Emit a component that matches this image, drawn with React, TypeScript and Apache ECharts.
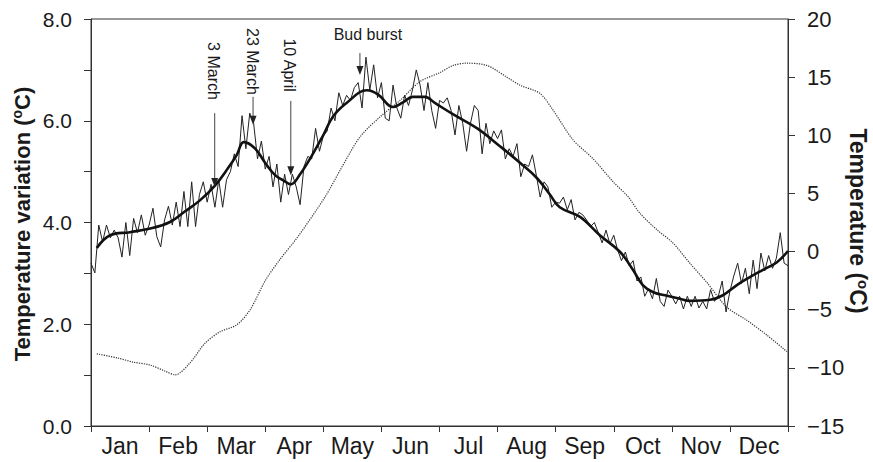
import React, { useEffect, useRef } from 'react';
import * as echarts from 'echarts';

// ---------- data ----------
const months = ['Jan', 'Feb', 'Mar', 'Apr', 'May', 'Jun', 'Jul', 'Aug', 'Sep', 'Oct', 'Nov', 'Dec'];

// daily-ish temperature variation, one reading every 2 days (x in months = index / 15)
const noisyVariation = [
  3.20, 3.01, 3.95, 3.62, 3.95, 3.70, 3.85, 3.70, 3.32, 4.00, 3.35, 4.08, 3.80, 4.15, 3.75,
  3.95, 4.28, 3.72, 3.52, 4.05, 4.32, 3.95, 4.40, 3.92, 4.61, 3.92, 4.80, 3.92, 4.55, 4.80,
  4.40, 4.75, 4.30, 4.84, 4.30, 4.84, 5.00, 5.35, 5.10, 6.10, 5.45, 6.15, 5.95, 5.25, 5.60,
  5.05, 5.30, 4.70, 5.15, 4.40, 4.95, 4.55, 4.95, 4.70, 4.35, 5.10, 5.30, 5.25, 5.85, 5.40,
  5.70, 5.80, 6.25, 6.00, 6.55, 6.30, 6.50, 6.40, 6.65, 6.75, 6.25, 7.25, 6.60, 7.10, 6.45,
  6.75, 6.05, 6.00, 6.70, 6.25, 6.05, 6.50, 6.30, 6.60, 7.00, 6.70, 6.20, 6.75, 6.20, 5.85,
  6.40, 6.35, 6.45, 6.20, 5.72, 6.30, 5.95, 5.40, 5.95, 6.30, 6.20, 5.35, 5.95, 5.55, 5.80,
  5.65, 5.82, 5.25, 5.45, 5.30, 5.55, 4.90, 5.15, 5.10, 5.33, 4.93, 4.50, 4.80, 4.70, 4.30,
  4.40, 4.38, 4.50, 4.25, 4.45, 4.05, 4.20, 4.15, 4.05, 3.92, 4.00, 3.80, 3.60, 3.85, 3.58,
  3.75, 3.46, 3.25, 3.42, 3.15, 3.25, 2.85, 2.93, 2.55, 2.70, 2.50, 2.90, 2.45, 2.35, 2.67,
  2.55, 2.40, 2.55, 2.30, 2.55, 2.35, 2.55, 2.32, 2.45, 2.30, 2.68, 2.45, 2.55, 2.85, 2.24,
  2.65, 2.95, 3.20, 2.80, 3.10, 2.60, 3.26, 2.70, 3.40, 3.05, 3.35, 3.10, 3.30, 3.80, 3.20,
  3.15,
];
const samplesPerMonth = 15;

// smoothed variation (month position, value)
const smoothMonth = [
  0.10, 0.33, 0.67, 1.02, 1.36, 1.62, 1.88, 2.13, 2.36, 2.51, 2.63, 2.82, 3.00, 3.17, 3.31, 3.44,
  3.60, 3.81, 4.00, 4.17, 4.41, 4.75, 4.94, 5.20, 5.37, 5.54, 5.75, 5.92, 6.23, 6.65, 7.04, 7.39,
  7.68, 7.90, 8.07, 8.42, 8.76, 9.11, 9.33, 9.50, 9.68, 9.92, 10.14, 10.31, 10.66, 10.88, 11.12,
  11.35, 11.57, 11.81, 12.0,
];
const smoothVariation = [
  3.50, 3.75, 3.81, 3.88, 4.01, 4.22, 4.44, 4.72, 5.07, 5.33, 5.58, 5.46, 5.17, 4.93, 4.83, 4.75,
  4.95, 5.33, 5.72, 6.09, 6.36, 6.60, 6.52, 6.27, 6.36, 6.47, 6.47, 6.35, 6.13, 5.85, 5.50, 5.17,
  4.87, 4.55, 4.30, 4.11, 3.75, 3.42, 3.07, 2.77, 2.63, 2.56, 2.50, 2.46, 2.48, 2.57, 2.77,
  2.93, 3.07, 3.22, 3.44,
];

// air temperature (right axis)
const airMonth = [
  0.10, 0.46, 0.72, 1.02, 1.27, 1.45, 1.70, 1.96, 2.22, 2.51, 2.74, 3.00, 3.25, 3.55, 4.03, 4.29,
  4.63, 4.98, 5.32, 5.66, 6.01, 6.23, 6.47, 6.82, 7.16, 7.39, 7.73, 7.95, 8.30, 8.64, 8.99, 9.25,
  9.45, 9.75, 10.02, 10.31, 10.61, 10.95, 11.29, 11.64, 11.98,
];
const airTemp = [
  -8.8, -9.15, -9.5, -9.76, -10.27, -10.6, -9.6, -7.9, -6.9, -6.3, -5.0, -2.5, -0.7, 1.2, 4.7, 7.0,
  9.85, 11.6, 13.0, 14.6, 15.4, 16.0, 16.2, 16.0, 15.0, 14.3, 13.6, 12.2, 9.6, 8.0, 6.0, 4.7,
  3.3, 1.85, 0.74, -1.0, -2.7, -4.8, -5.9, -7.2, -8.6,
];

// annotations: month position, arrow tip value, arrow top value, label anchor value
const annotationLabels = ['3 March', '23 March', '10 April', 'Bud burst'];
const annotationMonth = [2.13, 2.79, 3.44, 4.63];
const annotationTip = [4.70, 5.92, 4.93, 6.90];
const annotationTop = [6.15, 6.47, 6.39, 7.33];
const annotationText = [6.41, 6.51, 6.57, 7.69];

const FONT = '"Liberation Sans", Arial, Helvetica, sans-serif';
const INK = '#1a1a1a';

export default function App() {
  const ref = useRef<HTMLDivElement>(null);

  useEffect(() => {
    if (!ref.current) return;
    const chart = echarts.init(ref.current, undefined, { renderer: 'svg' });

    const noisyData = noisyVariation.map((v, i) => [i / samplesPerMonth, v]);
    const smoothData = smoothVariation.map((v, i) => [smoothMonth[i], v]);
    const airData = airTemp.map((v, i) => [airMonth[i], v]);

    chart.setOption({
      animation: false,
      backgroundColor: '#fff',
      grid: {
        left: 91,
        right: 85,
        top: 19,
        bottom: 36,
        show: true,
        borderColor: '#333',
        borderWidth: 1,
        backgroundColor: 'transparent',
      },
      xAxis: [
        { type: 'value', min: 0, max: 12, show: false },
        {
          type: 'category',
          data: months,
          boundaryGap: true,
          position: 'bottom',
          axisLine: { show: true, onZero: false, lineStyle: { color: '#333', width: 1 } },
          axisTick: { show: true, length: 6, lineStyle: { color: '#333' } },
          axisLabel: { fontSize: 23, color: INK, fontFamily: FONT, margin: 8, interval: 0 },
          splitLine: { show: false },
        },
      ],
      yAxis: [
        {
          type: 'value',
          min: 0,
          max: 8,
          interval: 1,
          position: 'left',
          axisLine: { show: true, onZero: false, lineStyle: { color: '#333', width: 1 } },
          axisTick: { show: true, length: 7, lineStyle: { color: '#333' } },
          axisLabel: {
            fontSize: 21,
            color: INK,
            fontFamily: FONT,
            margin: 19,
            formatter: (v: number) => (v % 2 === 0 ? v.toFixed(1) : ''),
          },
          splitLine: { show: false },
        },
        {
          type: 'value',
          min: -15,
          max: 20,
          interval: 5,
          position: 'right',
          axisLine: { show: true, onZero: false, lineStyle: { color: '#333', width: 1 } },
          axisTick: { show: true, length: 7, lineStyle: { color: '#333' } },
          axisLabel: {
            fontSize: 22,
            color: INK,
            fontFamily: FONT,
            margin: 19,
            formatter: (v: number) => String(v).replace('-', '\u2212'),
          },
          splitLine: { show: false },
        },
      ],
      series: [
        {
          name: 'Daily variation',
          type: 'line',
          xAxisIndex: 0,
          yAxisIndex: 0,
          data: noisyData,
          showSymbol: false,
          lineStyle: { color: '#222', width: 1 },
          z: 2,
        },
        {
          name: 'Smoothed variation',
          type: 'line',
          xAxisIndex: 0,
          yAxisIndex: 0,
          data: smoothData,
          smooth: 0.4,
          showSymbol: false,
          lineStyle: { color: '#111', width: 2.6 },
          z: 3,
        },
        {
          name: 'Air temperature',
          type: 'line',
          xAxisIndex: 0,
          yAxisIndex: 1,
          data: airData,
          smooth: 0.3,
          showSymbol: false,
          lineStyle: { color: '#333', width: 1.2, type: 'dotted' },
          z: 1,
        },
      ],
    });

    const toPx = (x: number, y: number) => chart.convertToPixel({ seriesIndex: 1 }, [x, y]) as number[];
    const graphics: any[] = [];
    annotationLabels.forEach((label, i) => {
      const tip = toPx(annotationMonth[i], annotationTip[i]);
      const top = toPx(annotationMonth[i], annotationTop[i]);
      const txt = toPx(annotationMonth[i], annotationText[i]);
      const headH = 9;
      const headW = 3.5;
      graphics.push({
        type: 'line',
        shape: { x1: top[0], y1: top[1], x2: tip[0], y2: tip[1] - headH + 1 },
        style: { stroke: '#444', lineWidth: 1 },
        z: 10,
      });
      graphics.push({
        type: 'polygon',
        shape: {
          points: [
            [tip[0], tip[1]],
            [tip[0] - headW, tip[1] - headH],
            [tip[0] + headW, tip[1] - headH],
          ],
        },
        style: { fill: '#222' },
        z: 10,
      });
      if (i < 3) {
        graphics.push({
          type: 'text',
          x: tip[0] - 1,
          y: txt[1],
          rotation: -Math.PI / 2,
          style: {
            text: label,
            fontSize: 16,
            fontFamily: FONT,
            fill: INK,
            textAlign: 'right',
            textVerticalAlign: 'middle',
          },
          z: 10,
        });
      } else {
        graphics.push({
          type: 'text',
          x: tip[0] + 8,
          y: txt[1],
          style: {
            text: label,
            fontSize: 16,
            fontFamily: FONT,
            fill: INK,
            textAlign: 'center',
            textVerticalAlign: 'middle',
          },
          z: 10,
        });
      }
    });

    graphics.push({
      type: 'text',
      x: 22,
      y: 224,
      rotation: Math.PI / 2,
      style: {
        text: 'Temperature variation ({sup|o}C)',
        fontSize: 22,
        fontWeight: 'bold',
        fontFamily: FONT,
        fill: INK,
        textAlign: 'center',
        textVerticalAlign: 'middle',
        rich: {
          sup: { fontSize: 14, fontWeight: 'bold', fontFamily: FONT, fill: INK, verticalAlign: 'top', padding: [0, 0, 10, 0] },
        },
      },
    });
    graphics.push({
      type: 'text',
      x: 858,
      y: 221,
      rotation: -Math.PI / 2,
      style: {
        text: 'Temperature ({sup|o}C)',
        fontSize: 23,
        fontWeight: 'bold',
        fontFamily: FONT,
        fill: INK,
        textAlign: 'center',
        textVerticalAlign: 'middle',
        rich: {
          sup: { fontSize: 15, fontWeight: 'bold', fontFamily: FONT, fill: INK, verticalAlign: 'top', padding: [0, 0, 10, 0] },
        },
      },
    });

    chart.setOption({ graphic: graphics });

    return () => chart.dispose();
  }, []);

  return (
    <div
      ref={ref}
      style={{ position: 'absolute', left: 0, top: 0, width: 873, height: 462 }}
    />
  );
}
